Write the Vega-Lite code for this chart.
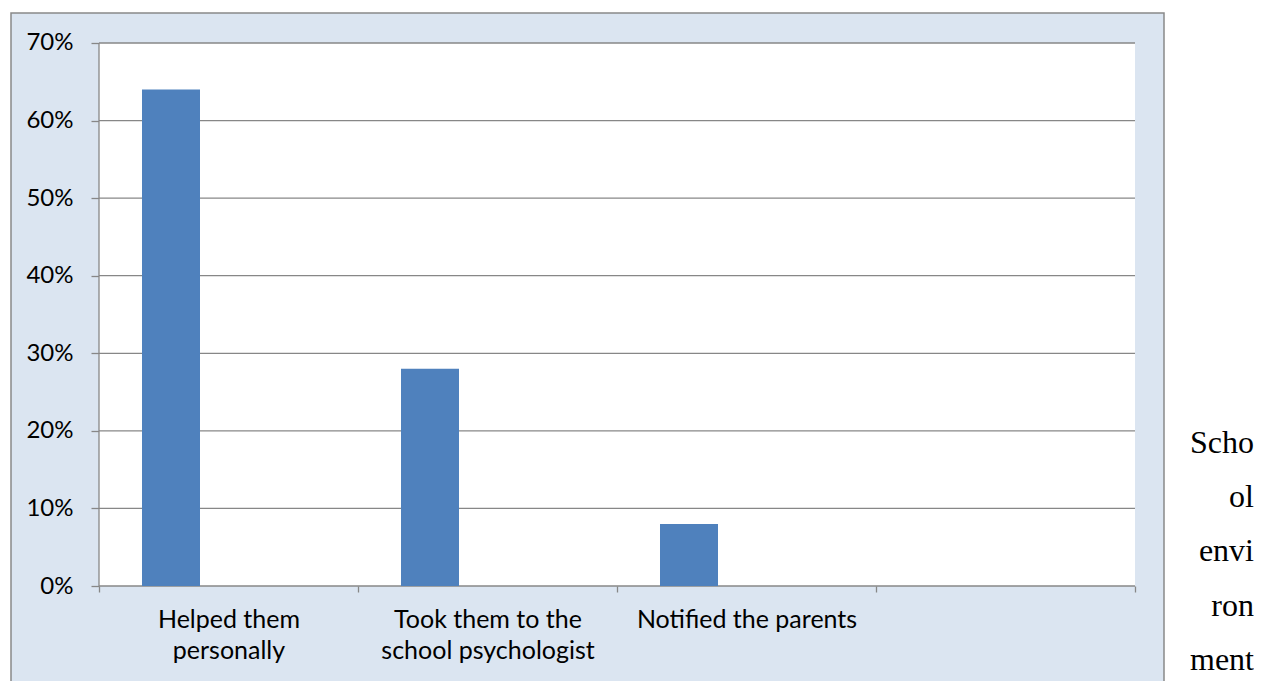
{
  "$schema": "https://vega.github.io/schema/vega-lite/v6.json",
  "background": "#ffffff",
  "padding": {"left": 10, "top": 12, "right": 0, "bottom": -12},
  "spacing": 0,
  "config": {"view": {"stroke": null}, "font": "Lato"},
  "datasets": {
    "bars": [
      {"category": "Helped them personally", "series": "S1", "value": 0.64},
      {"category": "Took them to the school psychologist", "series": "S1", "value": 0.28},
      {"category": "Notified the parents", "series": "S1", "value": 0.08}
    ],
    "cats": [
      {"category": "Helped them personally"},
      {"category": "Took them to the school psychologist"},
      {"category": "Notified the parents"},
      {"category": ""}
    ],
    "grid": [
      {"tick": 0}, {"tick": 0.1}, {"tick": 0.2}, {"tick": 0.3},
      {"tick": 0.4}, {"tick": 0.5}, {"tick": 0.6}, {"tick": 0.7}
    ],
    "side": [
      {"line": 1, "text": "Scho"},
      {"line": 2, "text": "ol"},
      {"line": 3, "text": "envi"},
      {"line": 4, "text": "ron"},
      {"line": 5, "text": "ment"}
    ]
  },
  "hconcat": [
    {
      "width": 1153,
      "height": 680,
      "view": {"fill": "#dbe5f1", "stroke": "#898989", "strokeWidth": 1.5},
      "layer": [
        {
          "data": {"name": "cats"},
          "mark": {"type": "rect", "fill": "#ffffff"},
          "encoding": {
            "x": {"field": "category", "type": "nominal", "title": null,
                  "scale": {"domain": ["Helped them personally", "Took them to the school psychologist", "Notified the parents", ""],
                            "paddingInner": 0, "paddingOuter": 0.225869, "align": 0.752137}},
            "y": {"datum": 0, "type": "quantitative", "title": null,
                  "scale": {"domain": [-0.137937, 0.738674], "nice": false, "zero": false}},
            "y2": {"datum": 0.7}
          }
        },
        {
          "data": {"name": "grid"},
          "mark": {"type": "rule", "stroke": "#878787", "strokeWidth": 1.3},
          "encoding": {
            "x": {"datum": "Helped them personally", "type": "nominal", "bandPosition": 0, "title": null},
            "x2": {"datum": "", "bandPosition": 1},
            "y": {"field": "tick", "type": "quantitative", "title": null}
          }
        },
        {
          "data": {"values": [{}]},
          "mark": {"type": "rule", "stroke": "#878787", "strokeWidth": 1.3},
          "encoding": {
            "x": {"datum": "Helped them personally", "type": "nominal", "bandPosition": 0, "title": null},
            "y": {"datum": 0, "type": "quantitative", "title": null},
            "y2": {"datum": 0.7}
          }
        },
        {
          "data": {"name": "bars"},
          "mark": {"type": "bar", "fill": "#4f81bd"},
          "encoding": {
            "x": {"field": "category", "type": "nominal", "title": null,
                  "axis": {"offset": -107, "domain": false, "grid": false, "tickBand": "extent",
                           "tickColor": "#878787", "tickWidth": 1.3, "tickSize": 6, "labelAngle": 0,
                           "labelAlign": "center", "labelBaseline": "top",
                           "labelFont": "Lato", "labelFontSize": 25, "labelColor": "#000000",
                           "labelPadding": 15, "labelLineHeight": 31, "labelLimit": 400,
                           "labelExpr": "datum.value == 'Helped them personally' ? ['Helped them', 'personally'] : datum.value == 'Took them to the school psychologist' ? ['Took them to the', 'school psychologist'] : datum.value"}},
            "xOffset": {"field": "series", "type": "nominal",
                        "scale": {"domain": ["S1", "S2"], "paddingInner": 0.49565, "paddingOuter": 0.37391}},
            "y": {"field": "value", "type": "quantitative", "title": null,
                  "axis": {"offset": -88, "domain": false, "grid": false,
                           "values": [0, 0.1, 0.2, 0.3, 0.4, 0.5, 0.6, 0.7], "format": ".0%",
                           "tickColor": "#878787", "tickWidth": 1.3, "tickSize": 8,
                           "labelFont": "Lato", "labelFontSize": 24, "labelColor": "#000000",
                           "labelPadding": 18}},
            "y2": {"datum": 0}
          }
        }
      ]
    },
    {
      "width": 89,
      "height": 680,
      "data": {"name": "side"},
      "mark": {"type": "text", "align": "right", "baseline": "alphabetic",
               "font": "Liberation Serif", "fontSize": 32, "color": "#000000"},
      "encoding": {
        "x": {"value": "width"},
        "y": {"field": "line", "type": "quantitative", "axis": null,
              "scale": {"domain": [-7.1106, 5.424], "nice": false, "zero": false, "reverse": true}},
        "text": {"field": "text"}
      }
    }
  ]
}
